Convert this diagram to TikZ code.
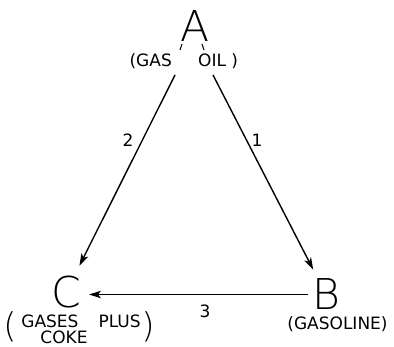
\documentclass[tikz,border=0pt]{standalone}
\usepackage{fontspec}
\setmainfont{DejaVu Sans}
\IfFontExistsTF{DejaVu Sans ExtraLight}{\newfontfamily\thinfont{DejaVu Sans ExtraLight}}{\newfontfamily\thinfont{DejaVu Sans}}
\usetikzlibrary{arrows.meta}
\begin{document}
\begin{tikzpicture}[x=1pt,y=-1pt,
  big/.style={font=\thinfont\fontsize{42.5}{44}\selectfont, inner sep=0pt, anchor=base},
  paren/.style={font=\thinfont\fontsize{34}{36}\selectfont, inner sep=0pt},
  lab/.style={font=\fontsize{17}{19}\selectfont, inner sep=0pt},
  arr/.style={line width=1.4pt, -{Stealth[length=12pt,width=7.5pt,inset=3pt]}},
  tick/.style={line width=1.1pt}]
\useasboundingbox (0,0) rectangle (394,347);
% main species
\node[big] (A) at (195,42) {A};
\node[big] (B) at (326,310) {B};
\node[big] (C) at (66,308) {C};
% captions
\node[lab, anchor=base east] (gas) at (172,67) {(GAS};
\node[lab, anchor=base west] (oil) at (198,67) {OIL )};
\node[lab, anchor=base] (Blab) at (337.5,330) {(GASOLINE)};
\node[lab, anchor=base] (Clab1) at (81,328) {GASES\hspace{20pt}PLUS};
\node[lab, anchor=base] (Clab2) at (64,344) {COKE};
\node[paren] (lp) at (10,327) {(};
\node[paren] (rp) at (148,327) {)};
% small marks below A
\draw[tick] (182,44) -- (180,50);
\draw[tick] (202,44) -- (204,50);
% reaction labels
\node[lab] (n2) at (128,140) {2};
\node[lab] (n1) at (257,140) {1};
\node[lab] (n3) at (205,311) {3};
% connectors
\coordinate (a2) at (175,75);
\coordinate (a1) at (213,75);
\draw[arr, shorten >=30pt] (a2) -- (C.center);
\draw[arr, shorten >=28pt] (a1) -- (B.center);
\draw[arr, shorten <=18pt, shorten >=23pt] (B.center) -- (B.center -| C.center);
\end{tikzpicture}
\end{document}
